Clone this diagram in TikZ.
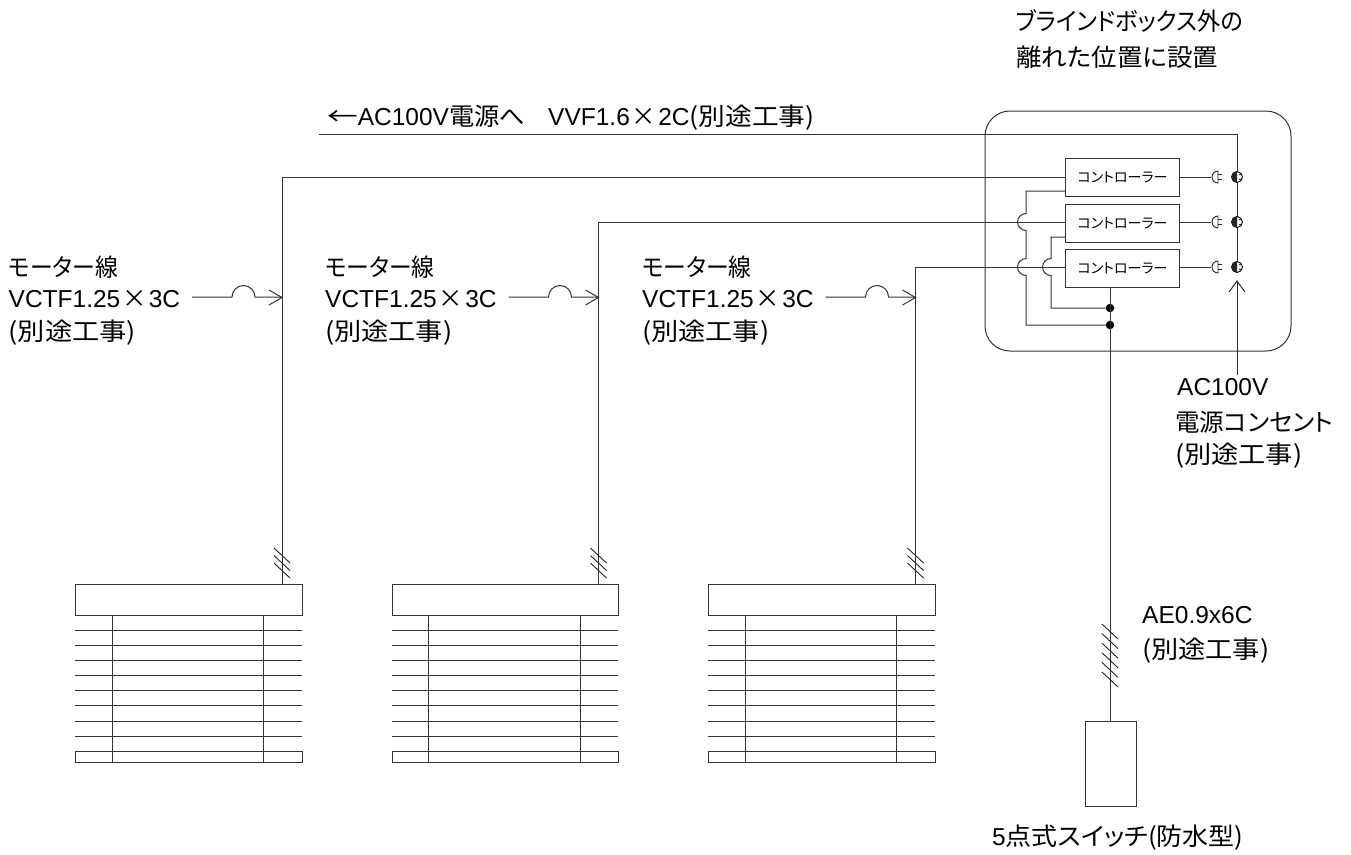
\documentclass[tikz,border=0pt]{standalone}
\usepackage{fontspec}
\usepackage{graphicx}
\setmainfont{Liberation Sans}
\newfontfamily\jpf[RawFeature=+palt]{Noto Sans CJK JP}
\newcommand{\jp}[1]{{\jpf #1}}
\newcommand{\sx}[2]{\scalebox{#1}[1]{#2}}
\newcommand{\bekto}{\sx{1.11}{\jp{(別途工事)}}}
\usetikzlibrary{arrows.meta}
\tikzset{
  wire/.style={line width=1pt,black!80},
  box/.style={draw=black!80,line width=1pt,fill=white,inner sep=0pt},
  lab/.style={anchor=base west,inner sep=0pt,font=\fontsize{24.5}{26}\selectfont,text=black},
  tiny/.style={font=\fontsize{14}{16}\selectfont\jpf,text=black},
  dot/.style={circle,fill=black,inner sep=0pt,minimum size=8.5pt}
}
\newcommand{\ticks}[4]{% x, ystart, n, spacing
  \foreach \i in {1,...,#3}{
    \draw[line width=.9pt,black!85] ({#1-8},{#2+(\i-1)*#4}) -- ({#1+8},{#2+(\i-1)*#4+15});
  }}
\newcommand{\blind}[2]{% name, dx
  \node[box,minimum width=226.5pt,minimum height=30.5pt,anchor=north west] (#1top) at ({75+#2},584) {};
  \node[box,minimum width=226.5pt,minimum height=11pt,anchor=north west] (#1bot) at ({75+#2},751) {};
  \foreach \yy in {630,645,660,675.5,690.5,705.5,721,736}{
    \draw[wire] ({75+#2},\yy) -- ({301.5+#2},\yy);
  }
  \draw[wire] ({112+#2},614.5) -- ({112+#2},762);
  \draw[wire] ({263.5+#2},614.5) -- ({263.5+#2},762);
}
\newcommand{\mlabel}[3]{% name, x, y
  \node[lab] (#1a) at (#2,#3) {\sx{.93}{\jp{モーター線}}};
  \node[lab] (#1b) at (#2,{#3+31}) {VCTF1.25\hspace{2pt}\jp{×}\hspace{2pt}3C};
  \node[lab] (#1c) at (#2,{#3+64}) {\bekto};
}
\begin{document}
\begin{tikzpicture}[x=1pt,y=-1pt]
\useasboundingbox[fill=white] (0,0) rectangle (1351,854);
% enclosure
\draw[line width=1pt,black!80,rounded corners=25pt] (985,111) rectangle (1291,351);
% blinds
\blind{ba}{0}
\blind{bb}{316.5}
\blind{bc}{633}
% controllers
\node[box,tiny,minimum width=114pt,minimum height=38pt,anchor=north west] (c1) at (1065,158) {コントローラー};
\node[box,tiny,minimum width=114pt,minimum height=38pt,anchor=north west] (c2) at (1065,203.5) {コントローラー};
\node[box,tiny,minimum width=114pt,minimum height=38pt,anchor=north west] (c3) at (1065,248.5) {コントローラー};
% motor wires
\draw[wire] (c1.west |- 0,177) -- (282,177) -- (282,584);
\draw[wire] (c2.west |- 0,222) -- (598.5,222) -- (598.5,584);
\draw[wire] (c3.west |- 0,267) -- (915.5,267) -- (915.5,584);
\ticks{282}{548}{3}{7.5}
\ticks{598.5}{548}{3}{7.5}
\ticks{915.5}{548}{3}{7.5}
% labels with jump arrows
\foreach \dx/\nm in {0/a,316.5/b,633.5/c}{
  \draw[wire] ({192+\dx},297) -- ({232+\dx},297) arc[start angle=180,end angle=360,radius=11.5] -- ({282+\dx},297);
  \draw[wire] ({269+\dx},290) -- ({282+\dx},297.5) -- ({269+\dx},305);
}
\mlabel{ma}{8.5}{276}
\mlabel{mb}{325}{276}
\mlabel{mc}{642}{276}
% power
\coordinate (ps) at (319,134);
\draw[wire] (ps) -- (1237,134) -- (1237,267);
\node[lab] (pw) at (327,125) {\sx{1.25}{\jp{←}}AC100V\sx{1.03}{\jp{電源へ}}\hspace{23pt}VVF1.6\hspace{2pt}\jp{×}\hspace{2pt}2C\sx{1.09}{\jp{(別途工事)}}};
% plugs and sockets
\foreach \yy/\c in {177/c1,222/c2,267/c3}{
  \draw[wire] (\c.east |- 0,\yy) -- (1211,\yy);
  \draw[line width=.9pt,black!85,fill=white] (1218,{\yy-6}) arc[start angle=270,end angle=90,radius=6] -- cycle;
  \draw[line width=.9pt,black!85] (1218,{\yy-2.5}) -- (1222,{\yy-2.5}) (1218,{\yy+2.5}) -- (1222,{\yy+2.5});
  \draw[line width=.9pt,black,fill=white] (1237,\yy) circle (5.5);
  \fill[black!85] (1237,{\yy-5.5}) arc[start angle=270,end angle=90,radius=5.5] -- cycle;
  \fill (1240,{\yy-2.5}) circle (.8) (1240,{\yy+2.5}) circle (.8);
}
% outlet arrow
\coordinate (oe) at (1237,375);
\draw[wire] (oe) -- (1237,281);
\draw[wire] (1229,292) -- (1237,281) -- (1245,292);
% control wires
\node[dot] (d1) at (1110,308) {};
\node[dot] (d2) at (1110,325) {};
\node[box,minimum width=51pt,minimum height=85pt,anchor=north west] (sw) at (1084.5,720.5) {};
\draw[wire] (c3.south -| d1) -- (sw.north -| d1);
\ticks{1110}{624}{6}{9.6}
\draw[wire] (c1.west |- 0,191) -- (1026,191) -- (1026,213.5)
  arc[start angle=270,end angle=90,radius=8.5] -- (1026,258.5)
  arc[start angle=270,end angle=90,radius=8.5] -- (1026,325) -- (d2);
\draw[wire] (c2.west |- 0,237) -- (1051,237) -- (1051,258.5)
  arc[start angle=270,end angle=90,radius=8.5] -- (1051,308) -- (d1);
% texts
\node[lab] (t1) at (1016,30) {\sx{.945}{\jp{ブラインドボックス外の}}};
\node[lab] (t2) at (1016,66) {\sx{1.04}{\jp{離れた位置に設置}}};
\node[lab] (t3) at (1177,395) {AC100V};
\node[lab] (t4) at (1175,431) {\jp{電源コンセント}};
\node[lab] (t5) at (1175,463) {\bekto};
\node[lab] (t6) at (1142,623) {AE0.9x6C};
\node[lab] (t7) at (1142,658) {\bekto};
\node[lab] (t8) at (992,845) {5\sx{1.06}{\jp{点式スイッチ(防水型)}}};
\end{tikzpicture}
\end{document}
